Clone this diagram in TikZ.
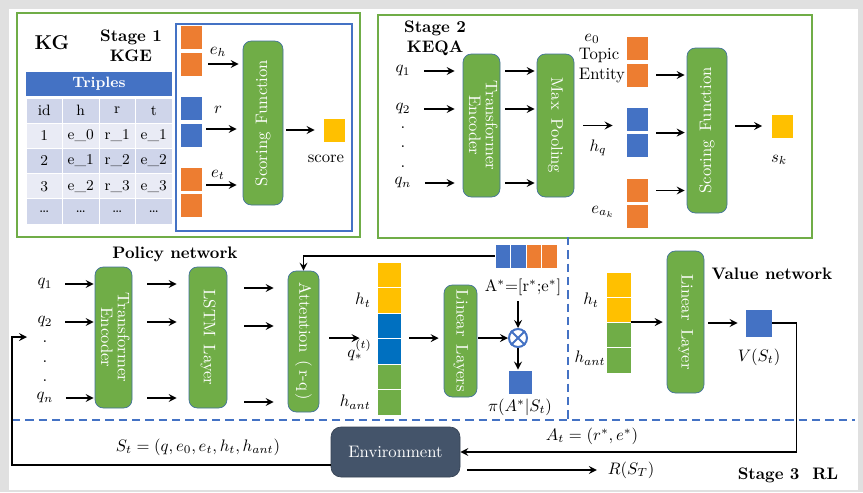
\documentclass[tikz,border=0pt]{standalone}
\usetikzlibrary{positioning}
\definecolor{kgreen}{HTML}{70AD47}
\definecolor{kblue}{HTML}{4472C4}
\definecolor{korange}{HTML}{ED7D31}
\definecolor{kyellow}{HTML}{FFC000}
\definecolor{kdeep}{HTML}{0070C0}
\definecolor{kedge}{HTML}{41719C}
\definecolor{kenv}{HTML}{44546A}
\definecolor{tdark}{HTML}{CFD5EA}
\definecolor{tlight}{HTML}{E9EBF5}
\newlength\pxu
\setlength\pxu{0.6pt}
\begin{document}
\begin{tikzpicture}[>=stealth, x=0.6pt, y=-0.6pt,
  block/.style={draw=kedge, fill=kgreen, rounded corners=5pt, text=white, inner sep=0pt},
  vec/.style={draw=white, line width=0.5pt, inner sep=0pt, minimum width=22\pxu, minimum height=24\pxu},
  feed/.style={->, line width=1.1pt},
  stagebox/.style={draw=kgreen, line width=1.3pt},
  sepline/.style={draw=kblue, line width=1.3pt, dash pattern=on 5pt off 3pt},
  tcell/.style={draw=white, line width=0.6pt, inner sep=0pt, minimum width=36.5\pxu, minimum height=25.2\pxu, font=\small}]
  \fill[black!12] (0,0) rectangle (863,492);
  \fill[white] (9,9) rectangle (858,490);
  \useasboundingbox (0,0) rectangle (863,492);

  % stage 1: KGE
  \draw[stagebox] (17,13) rectangle (360,237);
  \draw[kblue, line width=0.8pt] (176,24) rectangle (352,231);
  \node[font=\large\bfseries] (kg) at (52,43) {KG};
  \node[font=\bfseries, align=center] (st1) at (131,46) {Stage 1\\KGE};
  \node[fill=kblue, text=white, font=\small\bfseries, minimum width=146\pxu, minimum height=24\pxu, inner sep=0pt] (trip) at (99,84) {Triples};
  \foreach \row/\shade [count=\i] in {{id,h,r,t}/tdark, {1,e\_0,r\_1,e\_1}/tlight, {2,e\_1,r\_2,e\_2}/tdark, {3,e\_2,r\_3,e\_3}/tlight, {\ldots,\ldots,\ldots,\ldots}/tdark}
    \foreach \cell [count=\j] in \row
      \node[tcell, fill=\shade] (c\i\j) at ({26+36.5*\j-18.25}, {98+25.2*\i-12.6}) {\cell};
  \node[vec, fill=korange] (eh1) at (191,37) {};
  \node[vec, fill=korange] (eh2) at (191,64) {};
  \node[vec, fill=kblue] (rv1) at (191,108) {};
  \node[vec, fill=kblue] (rv2) at (191,135) {};
  \node[vec, fill=korange] (et1) at (191,179) {};
  \node[vec, fill=korange] (et2) at (191,205) {};
  \node[block, minimum width=40\pxu, minimum height=164\pxu] (sf1) at (263,123) {\rotatebox{90}{Scoring\enspace Function}};
  \node[vec, fill=kyellow] (score) at (334,130) {};
  \node (scoretxt) at (326,159) {score};
  \node (ehl) at (218,52) {$e_h$};
  \node (rl) at (218,110) {$r$};
  \node (etl) at (218,175) {$e_t$};
  \draw[feed, shorten <=3.6pt, shorten >=2.4pt] (eh2.east) -- (eh2.east -| sf1.west);
  \draw[feed, shorten <=2.4pt, shorten >=3.6pt] ([yshift=3.6pt]rv2.east) -- ([yshift=3.6pt]rv2.east -| sf1.west);
  \draw[feed, shorten <=2.4pt, shorten >=3.6pt] ([yshift=-3.6pt]et1.east) -- ([yshift=-3.6pt]et1.east -| sf1.west);
  \draw[feed, shorten <=1.8pt, shorten >=4.8pt] (sf1.east |- score) -- (score.west);

  % stage 2: KEQA
  \draw[stagebox] (378,15) rectangle (812,238);
  \node[font=\bfseries, align=center] (st2) at (435,38) {Stage 2\\KEQA};
  \node (q21) at (403,71) {$q_1$};
  \node (q22) at (403,109) {$q_2$};
  \foreach \y [count=\k] in {128,147,167}
    \node (q2d\k) at (403,\y) {.};
  \node (q2n) at (403,183) {$q_n$};
  \node[block, minimum width=37\pxu, minimum height=143\pxu] (te2) at (481.5,125.5) {\rotatebox{-90}{\begin{tabular}{@{}c@{}}Transformer\\[-2pt]Encoder\end{tabular}}};
  \node[block, minimum width=37\pxu, minimum height=143\pxu] (mp2) at (555.5,125.5) {\rotatebox{-90}{Max\enspace Pooling}};
  \foreach \q in {q21,q22,q2n} {
    \draw[feed, shorten <=4.6pt, shorten >=4.8pt] (\q.east) -- (\q.east -| te2.west);
    \draw[feed, shorten <=3pt, shorten >=1.2pt] (\q.east -| te2.east) -- (\q.east -| mp2.west);
  }
  \node[vec, fill=korange] (oe1) at (637,48) {};
  \node[vec, fill=korange] (oe2) at (637,75) {};
  \node[vec, fill=kblue] (bq1) at (637,119) {};
  \node[vec, fill=kblue] (bq2) at (637,145) {};
  \node[vec, fill=korange] (oa1) at (637,190.5) {};
  \node[vec, fill=korange] (oa2) at (637,216.5) {};
  \node (e0l) at (592,39) {$e_0$};
  \node[align=left] (topic) at (602,65.5) {Topic\\Entity};
  \node (hql) at (598,148) {$h_q$};
  \node (eakl) at (603,212) {$e_{a_k}$};
  \draw[feed, shorten <=5.4pt, shorten >=7.8pt] (mp2.east) -- (mp2.east -| bq1.west);
  \node[block, minimum width=40\pxu, minimum height=165\pxu] (sf2) at (707,130.5) {\rotatebox{90}{Scoring\enspace Function}};
  \draw[feed, shorten <=4.8pt, shorten >=1.2pt] (oe2.east) -- (oe2.east -| sf2.west);
  \draw[feed, shorten <=4.8pt, shorten >=1.2pt] (bq2.north east) -- (bq2.north east -| sf2.west);
  \draw[feed, shorten <=4.8pt, shorten >=1.2pt] (oa1.east) -- (oa1.east -| sf2.west);
  \node[vec, fill=kyellow] (sk) at (782.5,126) {};
  \node (skl) at (779,160) {$s_k$};
  \draw[feed, shorten <=4.8pt, shorten >=5.4pt] (sf2.east |- sk) -- (sk.west);

  % stage 3: policy network
  \node[font=\bfseries] (pol) at (175,254) {Policy network};
  \node (q31) at (45,284) {$q_1$};
  \node (q32) at (45,322) {$q_2$};
  \foreach \y [count=\k] in {342,362,381}
    \node (q3d\k) at (45,\y) {.};
  \node (q3n) at (45,398) {$q_n$};
  \node[block, minimum width=37\pxu, minimum height=141\pxu] (te3) at (113.5,337.5) {\rotatebox{-90}{\begin{tabular}{@{}c@{}}Transformer\\[-2pt]Encoder\end{tabular}}};
  \node[block, minimum width=38\pxu, minimum height=141\pxu] (lstm) at (208,337.5) {\rotatebox{-90}{LSTM\enspace Layer}};
  \node[block, minimum width=31\pxu, minimum height=141\pxu] (att) at (303.5,341.5) {\rotatebox{-90}{Attention\enspace(\,r-q\,)}};
  \foreach \q in {q31,q32,q3n} {
    \draw[feed, shorten <=4pt, shorten >=0.6pt] (\q.east) -- (\q.east -| te3.west);
    \draw[feed, shorten <=9pt, shorten >=7.2pt] (\q.east -| te3.east) -- (\q.east -| lstm.west);
    \draw[feed, shorten <=10.2pt, shorten >=8.4pt] ([yshift=-2.4pt]\q.east -| lstm.east) -- ([yshift=-2.4pt]\q.east -| att.west);
  }
  \foreach \c/\y [count=\k] in {kyellow/274.75, kyellow/300.25, kdeep/325.75, kdeep/351.25, kgreen/376.75, kgreen/402.25}
    \node[vec, fill=\c, minimum width=24\pxu, minimum height=25.5\pxu] (sv\k) at (389,\y) {};
  \node[left=0pt of sv2] (htl) {$h_t$};
  \node[inner sep=0pt, anchor=base east] (qsl) at (372,357) {$q_*^{(t)}$};
  \node[left=0pt of sv6] (hal) {$h_{ant}$};
  \draw[feed, shorten <=6pt, shorten >=10.2pt] (att.east |- sv4.north) -- (sv4.north west);
  \node[block, minimum width=33\pxu, minimum height=112\pxu] (lin3) at (460.5,341) {\rotatebox{-90}{Linear\enspace Layers}};
  \draw[feed, shorten <=4.8pt, shorten >=3pt] (sv4.north east) -- (sv4.north east -| lin3.west);
  \foreach \c/\x [count=\k] in {kblue/503, kblue/518.5, korange/534, korange/549.5}
    \node[vec, fill=\c, minimum width=15.5\pxu] (av\k) at (\x,256) {};
  \draw[feed] (av1.west) -| (att.north);
  \node (ast) at (523,287) {A$^*$=[r$^*$;e$^*$]};
  \node[circle, draw=kblue, line width=1.2pt, minimum size=18\pxu, inner sep=0pt] (ot) at (518,338) {};
  \draw[kblue, line width=1.2pt] (ot.north east) -- (ot.south west) (ot.north west) -- (ot.south east);
  \draw[feed] (ast.south -| ot.north) -- (ot.north);
  \draw[feed, shorten <=0.6pt] (lin3.east |- ot) -- (ot.west);
  \node[vec, fill=kblue, minimum width=24\pxu, minimum height=24\pxu] (pis) at (520,382) {};
  \draw[feed] (ot.south) -- (ot.south |- pis.north);
  \node (pil) at (520,407) {$\pi(A^*|S_t)$};

  \draw[sepline] (12,420) -- (855,420);
  \draw[sepline] (568,237) -- (568,420);

  % stage 3: value network
  \foreach \c/\y [count=\k] in {kyellow/284.6, kyellow/309.9, kgreen/335.1, kgreen/360.4}
    \node[vec, fill=\c, minimum width=25\pxu, minimum height=25.25\pxu] (vv\k) at (618.5,\y) {};
  \node (htv) at (591,300) {$h_t$};
  \node (hav) at (590,358) {$h_{ant}$};
  \node[block, minimum width=37\pxu, minimum height=142\pxu] (lv) at (685.5,322) {\rotatebox{-90}{Linear\enspace Layer}};
  \draw[feed, shorten >=2.4pt] (vv3.north east) -- (vv3.north east -| lv.west);
  \node[vec, fill=kblue, minimum width=27\pxu, minimum height=28\pxu] (vs) at (758.5,323) {};
  \draw[feed, shorten <=2.4pt, shorten >=4.2pt] (lv.east |- vs) -- (vs.west);
  \node (vsl) at (759,357) {$V(S_t)$};
  \node[font=\bfseries] (valn) at (772,274) {Value network};

  % environment
  \node[draw=kenv!80!black, fill=kenv, rounded corners=6pt, minimum width=129\pxu, minimum height=50\pxu, text=white] (env) at (395.5,452) {Environment};
  \coordinate (fb) at (27,337);
  \draw[feed] ([yshift=-7.8pt]env.west) -| ([xshift=-9pt]fb) -- (fb);
  \node (stl) at (198,447) {$S_t = (q, e_0, e_t, h_t, h_{ant})$};
  \draw[feed] (vs.east) -- ++(14.4pt,0) |- (env.east);
  \node (atl) at (592,436) {$A_t = (r^*, e^*)$};
  \node (rst) at (631,470) {$R(S_T)$};
  \draw[feed, shorten <=4.2pt, shorten >=3pt] (env.east |- rst) -- (rst.west);
  \node[font=\bfseries] (st3) at (788,475) {Stage 3\ \ RL};
\end{tikzpicture}
\end{document}
